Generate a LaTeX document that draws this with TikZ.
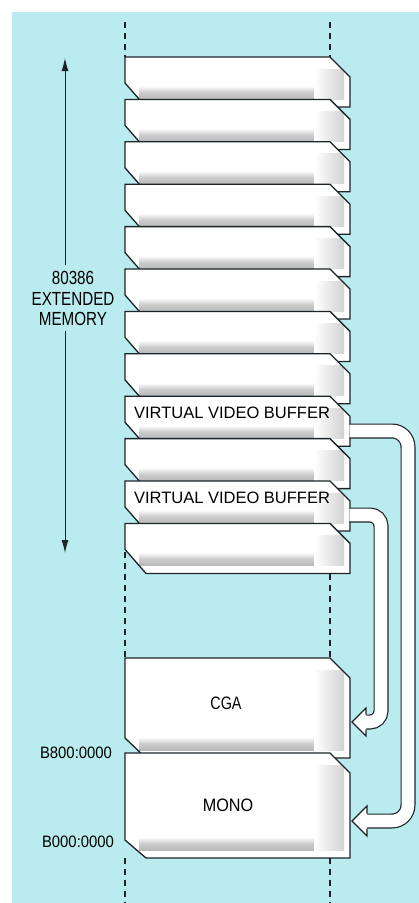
\documentclass[tikz,border=0pt]{standalone}
\usepackage{fontspec}
\setmainfont{Liberation Sans}
\newfontfamily\condA{Liberation Sans}[FakeStretch=0.8]
\newfontfamily\condB{Liberation Sans}[FakeStretch=0.9]
\usetikzlibrary{arrows.meta}
\definecolor{bgcyan}{RGB}{186,236,239}
\definecolor{ink}{RGB}{28,36,40}
\tikzset{
  blk/.style={draw=ink, line width=1.3pt, line join=miter},
  guide/.style={draw=ink, line width=1.2pt, dash pattern=on 6pt off 5pt},
  pipe/.style={draw=ink, line width=1.2pt, double=white, double distance=12.6pt},
  headfill/.style={fill=white},
  headline/.style={draw=ink, line width=1.2pt, line join=miter},
  lbl/.style={inner sep=0pt, text=black},
  memarrow/.style={draw=ink, line width=1pt, -{Latex[length=13pt,width=7pt]}}
}
\newcommand\memblk[4]{%
  \pgfmathsetmacro\mbB{#2+#3}%
  \pgfmathsetmacro\mbC{#2+#4}%
  \pgfmathsetmacro\mbT{#2+20}%
  \pgfmathsetmacro\mbBa{\mbB-21}%
  \pgfmathsetmacro\mbBb{\mbB-8}%
  \pgfmathsetmacro\mbRa{#2+12}%
  \begin{scope}
    \clip (125,#2) -- (330,#2) -- (350,\mbT) -- (350,\mbB) -- (146,\mbB) -- (125,\mbC) -- cycle;
    \fill[white] (120,#2) rectangle (355,\mbB);
    \shade[top color=white, bottom color=gray!55, middle color=gray!40] (139,\mbBa) rectangle (334,\mbBb);
    \shade[left color=white, right color=gray!35] (314,\mbRa) rectangle (344,\mbBb);
  \end{scope}
  \draw[blk] (125,#2) -- (330,#2) -- (350,\mbT) -- (350,\mbB) -- (146,\mbB) -- (125,\mbC) -- cycle;
  \coordinate (#1) at (237,#2);
}
\begin{document}
\begin{tikzpicture}[x=1pt,y=-1pt]
\useasboundingbox (0,0) rectangle (419,903);
\fill[white] (0,0) rectangle (419,903);
\fill[bgcyan] (12,12) rectangle (419,903);

% dashed guide lines
\draw[guide] (125,22) -- (125,57);
\draw[guide] (330,22) -- (330,57);
\draw[guide] (125,552) -- (125,658);
\draw[guide] (330,574) -- (330,658);
\draw[guide] (125,858) -- (125,903);
\draw[guide] (330,858) -- (330,903);

% extended memory arrow and label
\node[lbl, font=\fontsize{19}{20}\selectfont\condA] (n80386) at (73,278) {80386};
\node[lbl, font=\fontsize{19}{20}\selectfont\condA] (next) at (73,299) {EXTENDED};
\node[lbl, font=\fontsize{19}{20}\selectfont\condA] (nmem) at (73,319) {MEMORY};
\coordinate (arrtop) at (65,58);
\coordinate (arrbot) at (65,553);
\coordinate (arrgapA) at (65,265);
\coordinate (arrgapB) at (65,331);
\draw[memarrow] (arrgapA) -- (arrtop);
\draw[memarrow] (arrgapB) -- (arrbot);

% upper stack of extended memory blocks
\foreach \i in {0,...,11}{
  \pgfmathsetmacro\mbtop{57+42.4*\i}
  \memblk{b\i}{\mbtop}{50}{26}
}
\node[lbl, font=\fontsize{16.5}{18}\selectfont] (vvbtA) at (232,413) {VIRTUAL VIDEO BUFFER};
\node[lbl, font=\fontsize{16.5}{18}\selectfont] (vvbtB) at (232,498) {VIRTUAL VIDEO BUFFER};

% lower stack
\memblk{cga}{658}{100}{80}
\memblk{mono}{753}{105}{87}
\node[lbl, font=\fontsize{18}{20}\selectfont\condA] (cgat) at (226,703) {CGA};
\node[lbl, font=\fontsize{18}{20}\selectfont\condB] (monot) at (228,805) {MONO};
\node[lbl, font=\fontsize{16.5}{18}\selectfont\condB] (adrA) at (76,753) {B800:0000};
\node[lbl, font=\fontsize{16.5}{18}\selectfont\condB] (adrB) at (78,842) {B000:0000};

% pipes
\coordinate (vvbA) at (349.4,431);
\coordinate (vvbB) at (349.4,515);
\coordinate (monoIn) at (367,821);
\coordinate (cgaIn) at (366,722);
\draw[pipe, rounded corners=16pt] (vvbA) -- (408,431) -- (408,821) -- (monoIn);
\draw[pipe, rounded corners=11pt] (vvbB) -- (381,515) -- (381,722) -- (cgaIn);

% arrow heads
\fill[headfill] (352,821) -- (367,806) -- (367,836) -- cycle;
\draw[headline] (367,813.5) -- (367,806) -- (352,821) -- (367,836) -- (367,828.5);
\fill[headfill] (352,722) -- (366,708) -- (366,736) -- cycle;
\draw[headline] (366,714.5) -- (366,708) -- (352,722) -- (366,736) -- (366,729.5);
\end{tikzpicture}
\end{document}
